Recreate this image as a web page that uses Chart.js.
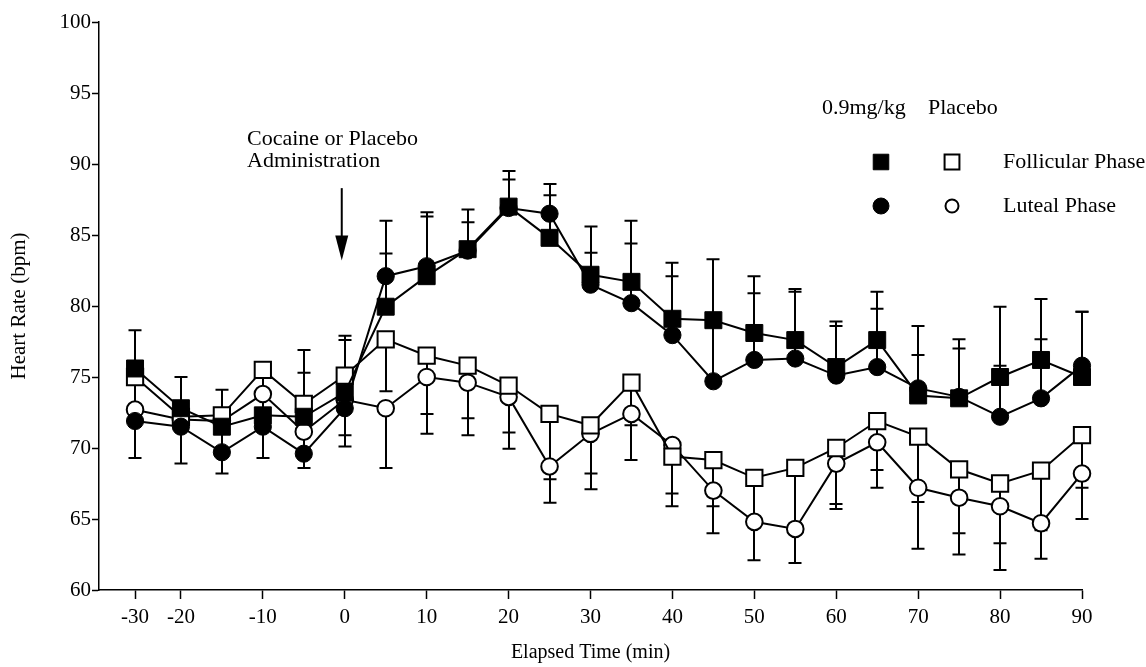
<!DOCTYPE html>
<html>
<head>
<meta charset="utf-8">
<script src="https://cdn.jsdelivr.net/npm/chart.js@4.4.1/dist/chart.umd.min.js"></script>
<style>
  html, body { margin: 0; padding: 0; background: #ffffff; }
  #wrap { width: 1146px; height: 667px; }
</style>
</head>
<body>
<div id="wrap"><canvas id="c" width="1146" height="667"></canvas></div>
<script>
// ---- data ----
const times = [-30, -20, -15, -10, -5, 0, 5, 10, 15, 20, 25, 30, 35, 40, 45, 50, 55, 60, 65, 70, 75, 80, 85, 90];
const xTickValues = [-30, -20, -10, 0, 10, 20, 30, 40, 50, 60, 70, 80, 90];
const yTickValues = [60, 65, 70, 75, 80, 85, 90, 95, 100];

const follicularCocaine = [75.6, 72.8, 71.5, 72.3, 72.2, 73.9, 79.95, 82.1, 84.0, 87.0, 84.8, 82.2, 81.7, 79.1, 79.0, 78.1, 77.6, 75.7, 77.6, 73.7, 73.5, 75.0, 76.2, 75.0];
const lutealCocaine     = [71.9, 71.5, 69.7, 71.5, 69.6, 72.8, 82.1, 82.8, 83.9, 86.9, 86.5, 81.5, 80.2, 77.95, 74.7, 76.2, 76.3, 75.1, 75.7, 74.2, 73.6, 72.2, 73.5, 75.8];
const follicularPlacebo = [75.0, 72.2, 72.3, 75.5, 73.1, 75.1, 77.65, 76.5, 75.8, 74.4, 72.4, 71.6, 74.6, 69.4, 69.15, 67.9, 68.6, 70.0, 71.9, 70.8, 68.5, 67.5, 68.4, 70.9];
const lutealPlacebo     = [72.7, 72.0, 71.9, 73.8, 71.15, 73.4, 72.8, 75.0, 74.6, 73.6, 68.7, 71.0, 72.4, 70.2, 67.0, 64.8, 64.3, 68.9, 70.4, 67.2, 66.5, 65.9, 64.7, 68.2];

// standard errors (cocaine drawn upward, placebo drawn downward)
const follicularCocaineErr = [2.7, 2.2, 2.6, 1.5, 4.7, 4.0, 3.75, 4.2, 2.8, 2.5, 3.0, 3.4, 4.3, 3.95, 0.4, 4.0, 3.6, 3.2, 3.4, 2.85, 4.15, 4.95, 4.3, 4.6];
const lutealCocaineErr     = [0.8, 0.8, 1.8, 1.0, 5.7, 4.8, 3.9, 3.8, 2.0, 2.0, 2.1, 2.25, 4.2, 4.15, 8.6, 4.7, 4.7, 3.5, 4.1, 4.4, 3.4, 3.6, 4.15, 3.8];
const follicularPlaceboErr = [2.5, 0.5, 0.5, 2.0, 1.5, 4.2, 3.65, 4.1, 3.7, 3.3, 4.6, 3.4, 3.0, 3.5, 3.25, 3.0, 4.3, 3.95, 3.45, 4.6, 4.5, 4.2, 4.2, 3.7];
const lutealPlaceboErr     = [3.4, 3.1, 3.7, 4.5, 2.55, 3.3, 4.2, 4.0, 3.7, 3.65, 2.55, 3.9, 3.25, 3.4, 3.0, 2.7, 2.4, 3.2, 3.2, 4.3, 4.0, 4.5, 2.5, 3.2];

const legendHeaders = ['0.9mg/kg', 'Placebo'];
const legendRows = ['Follicular Phase', 'Luteal Phase'];
const annotationLines = ['Cocaine or Placebo', 'Administration'];
const arrowFrom = 88.3, arrowTo = 83.2;
const xTitle = 'Elapsed Time (min)';
const yTitle = 'Heart Rate (bpm)';

// ---- x axis with compressed pre-baseline segment (as in the original figure) ----
const BREAK = -20, SQUEEZE = 0.56;
function compress(v) { return v < BREAK ? BREAK + (v - BREAK) * SQUEEZE : v; }
function expand(p) { return p < BREAK ? BREAK + (p - BREAK) / SQUEEZE : p; }
class BrokenTimeScale extends Chart.LinearScale {
  getPixelForValue(value) { return super.getPixelForValue(value == null ? value : compress(value)); }
  getValueForPixel(pixel) { return expand(super.getValueForPixel(pixel)); }
}
BrokenTimeScale.id = 'brokenTime';
BrokenTimeScale.defaults = Chart.LinearScale.defaults;
Chart.register(BrokenTimeScale);

const SERIF = '"Liberation Serif", "Times New Roman", serif';

function pts(vals) { return times.map((t, i) => ({ x: t, y: vals[i] })); }

const errorBarPlugin = {
  id: 'errorBars',
  beforeDatasetsDraw(chart) {
    const ctx = chart.ctx, xs = chart.scales.x, ys = chart.scales.y;
    ctx.save();
    ctx.strokeStyle = '#000';
    ctx.lineWidth = 2;
    chart.data.datasets.forEach(ds => {
      ds.data.forEach((p, i) => {
        const px = Math.round(xs.getPixelForValue(p.x));
        const y0 = ys.getPixelForValue(p.y);
        const y1 = ys.getPixelForValue(p.y + ds.errDir * ds.errors[i]);
        ctx.beginPath();
        ctx.moveTo(px, y0); ctx.lineTo(px, y1);
        ctx.moveTo(px - 6.5, y1); ctx.lineTo(px + 6.5, y1);
        ctx.stroke();
      });
    });
    ctx.restore();
  }
};

const annotationPlugin = {
  id: 'annot',
  afterDraw(chart) {
    const ctx = chart.ctx, xs = chart.scales.x, ys = chart.scales.y;
    ctx.save();
    ctx.fillStyle = '#000';
    ctx.strokeStyle = '#000';
    ctx.font = '22px ' + SERIF;
    ctx.textBaseline = 'middle';
    ctx.textAlign = 'left';
    // administration note + arrow
    ctx.fillText(annotationLines[0], 247, 139);
    ctx.fillText(annotationLines[1], 247, 161);
    const ax = xs.getPixelForValue(0) - 3;
    const yA = ys.getPixelForValue(arrowFrom), yB = ys.getPixelForValue(arrowTo);
    ctx.lineWidth = 2;
    ctx.beginPath(); ctx.moveTo(ax, yA); ctx.lineTo(ax, yB - 20); ctx.stroke();
    ctx.beginPath(); ctx.moveTo(ax - 6.5, yB - 25); ctx.lineTo(ax + 6.5, yB - 25); ctx.lineTo(ax, yB); ctx.closePath(); ctx.fill();
    // legend
    ctx.fillText(legendHeaders[0], 822, 108);
    ctx.fillText(legendHeaders[1], 928, 108);
    ctx.fillText(legendRows[0], 1003, 162);
    ctx.fillText(legendRows[1], 1003, 206);
    const sym = [
      { x: 881, y: 162, style: 'rect', r: 11, fill: '#000', bw: 1 },
      { x: 952, y: 162, style: 'rect', r: 10.5, fill: '#fff', bw: 2 },
      { x: 881, y: 206, style: 'circle', r: 8, fill: '#000', bw: 1 },
      { x: 952, y: 206, style: 'circle', r: 6.5, fill: '#fff', bw: 2 }
    ];
    sym.forEach(s => {
      ctx.fillStyle = s.fill; ctx.strokeStyle = '#000'; ctx.lineWidth = s.bw;
      Chart.helpers.drawPoint(ctx, { pointStyle: s.style, radius: s.r, rotation: 0, borderWidth: s.bw }, s.x, s.y);
    });
    ctx.restore();
  }
};

function ds(label, vals, errs, dir, style, radius, bg) {
  return {
    label, data: pts(vals), errors: errs, errDir: dir, clip: false,
    borderColor: '#000', borderWidth: 2, tension: 0, fill: false,
    pointStyle: style, pointRadius: radius, pointBackgroundColor: bg,
    pointBorderColor: '#000', pointBorderWidth: bg === '#000' ? 1 : 2,
    pointHoverRadius: radius
  };
}

new Chart(document.getElementById('c'), {
  type: 'line',
  data: {
    datasets: [
      ds('0.9mg/kg Follicular Phase', follicularCocaine, follicularCocaineErr, 1, 'rect', 12, '#000'),
      ds('0.9mg/kg Luteal Phase', lutealCocaine, lutealCocaineErr, 1, 'circle', 8.6, '#000'),
      ds('Placebo Follicular Phase', follicularPlacebo, follicularPlaceboErr, -1, 'rect', 11.5, '#fff'),
      ds('Placebo Luteal Phase', lutealPlacebo, lutealPlaceboErr, -1, 'circle', 8.3, '#fff')
    ]
  },
  options: {
    responsive: false,
    animation: false,
    events: [],
    devicePixelRatio: 1,
    layout: { padding: { left: 0, right: 64, top: 22, bottom: 0 } },
    plugins: { legend: { display: false }, tooltip: { enabled: false } },
    scales: {
      x: {
        type: 'brokenTime',
        min: -30, max: 90,
        afterBuildTicks(scale) { scale.ticks = xTickValues.map(v => ({ value: v })); },
        afterFit(scale) { scale.height = 77; },
        ticks: {
          autoSkip: false, maxRotation: 0, minRotation: 0,
          color: '#000', padding: 6,
          font: { family: SERIF, size: 21 },
          callback: v => String(v)
        },
        grid: { display: true, drawOnChartArea: false, drawTicks: true, tickLength: 9, tickColor: '#000', tickWidth: 1.5 },
        border: { display: true, color: '#000', width: 1.5 },
        title: { display: true, text: xTitle, color: '#000', font: { family: SERIF, size: 20 }, padding: { top: 0, bottom: 2 } }
      },
      y: {
        type: 'linear',
        min: 60, max: 100,
        afterBuildTicks(scale) { scale.ticks = yTickValues.map(v => ({ value: v })); },
        afterFit(scale) { scale.width = 99; },
        ticks: {
          color: '#000', padding: 1,
          font: { family: SERIF, size: 21 },
          callback: v => String(v)
        },
        grid: { display: true, drawOnChartArea: false, drawTicks: true, tickLength: 7, tickColor: '#000', tickWidth: 1.5 },
        border: { display: true, color: '#000', width: 1.5 },
        title: { display: true, text: yTitle, color: '#000', font: { family: SERIF, size: 21 }, padding: { top: 7, bottom: 0 } }
      }
    }
  },
  plugins: [errorBarPlugin, annotationPlugin]
});
</script>
</body>
</html>
